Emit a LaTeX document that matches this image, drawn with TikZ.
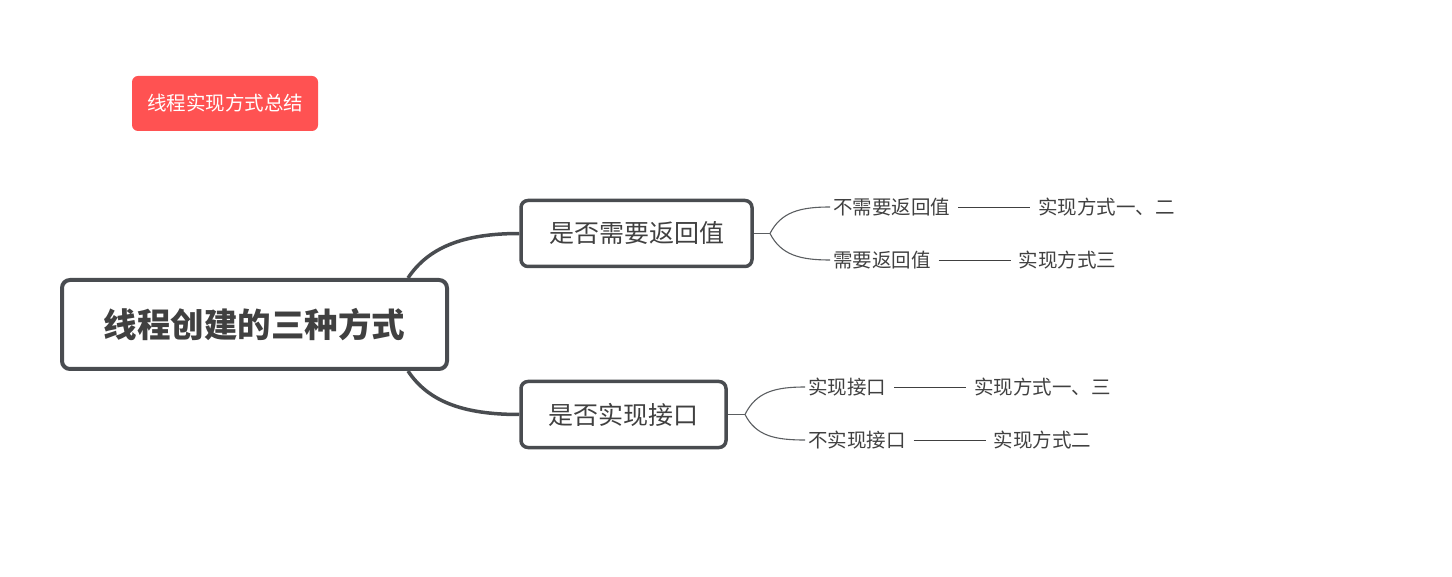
\documentclass[tikz,border=0pt]{standalone}
\usepackage{fontspec}
\newfontfamily\cjk{Noto Sans CJK SC}
\usetikzlibrary{positioning}

\definecolor{tagred}{RGB}{255,82,82}
\definecolor{boxgray}{RGB}{73,76,80}
\definecolor{textgray}{RGB}{64,64,64}

% 文字里的长横线
\newcommand{\longdash}{\hspace{8pt}\rule[0.33em]{72pt}{1.1pt}\hspace{8pt}}

\begin{document}
\begin{tikzpicture}[x=1pt, y=-1pt,
    rootbox/.style={draw=boxgray, line width=4pt, rounded corners=8pt, inner sep=0pt,
      minimum width=385pt, minimum height=89pt, text=textgray,
      font=\cjk\bfseries\fontsize{33.5}{33.5}\selectfont},
    topicbox/.style={draw=boxgray, line width=3.5pt, rounded corners=7pt, inner sep=0pt,
      minimum height=66pt, text=textgray, font=\cjk\fontsize{25}{25}\selectfont},
    tagbox/.style={fill=tagred, rounded corners=6pt, inner sep=0pt,
      minimum width=186pt, minimum height=55pt, text=white,
      font=\cjk\fontsize{19.5}{19.5}\selectfont},
    leaf/.style={anchor=west, inner sep=0pt, text=textgray,
      font=\cjk\fontsize{19.5}{19.5}\selectfont},
    thickline/.style={draw=boxgray, line width=3.5pt},
    thinline/.style={draw=boxgray!90, line width=1.1pt}]
    \useasboundingbox (0,0) rectangle (1452,577);

    % 标签
    \node[tagbox] (tag) at (225,103.5) {线程实现方式总结};

    % 中心主题和分支
    \node[rootbox] (root) at (254.5,324.5) {线程创建的三种方式};
    \node[topicbox, minimum width=231pt] (ret) at (636.5,233.5) {是否需要返回值};
    \node[topicbox, minimum width=205pt] (impl) at (623.5,414.5) {是否实现接口};

    \draw[thickline] ([xshift=-41pt]root.north east) .. controls (428,248) and (462,233.5) .. (ret.west);
    \draw[thickline] ([xshift=-41pt]root.south east) .. controls (428,401) and (462,414.5) .. (impl.west);

    % 子主题
    \node[leaf] (ret1) at (833,207) {不需要返回值\longdash 实现方式一、二};
    \node[leaf] (ret2) at (833,260) {需要返回值\longdash 实现方式三};
    \node[leaf] (impl1) at (808,387) {实现接口\longdash 实现方式一、三};
    \node[leaf] (impl2) at (808,440) {不实现接口\longdash 实现方式二};

    \coordinate (jret) at (770,233.5);
    \coordinate (jimpl) at (745,414.5);

    \draw[thinline] (ret.east) -- (jret);
    \draw[thinline] (jret) .. controls (781,212) and (800,207) .. ([xshift=-3pt]ret1.west);
    \draw[thinline] (jret) .. controls (781,255) and (800,260) .. ([xshift=-3pt]ret2.west);
    \draw[thinline] (impl.east) -- (jimpl);
    \draw[thinline] (jimpl) .. controls (756,392) and (775,387) .. ([xshift=-3pt]impl1.west);
    \draw[thinline] (jimpl) .. controls (756,436) and (775,440) .. ([xshift=-3pt]impl2.west);
  \end{tikzpicture}
\end{document}
